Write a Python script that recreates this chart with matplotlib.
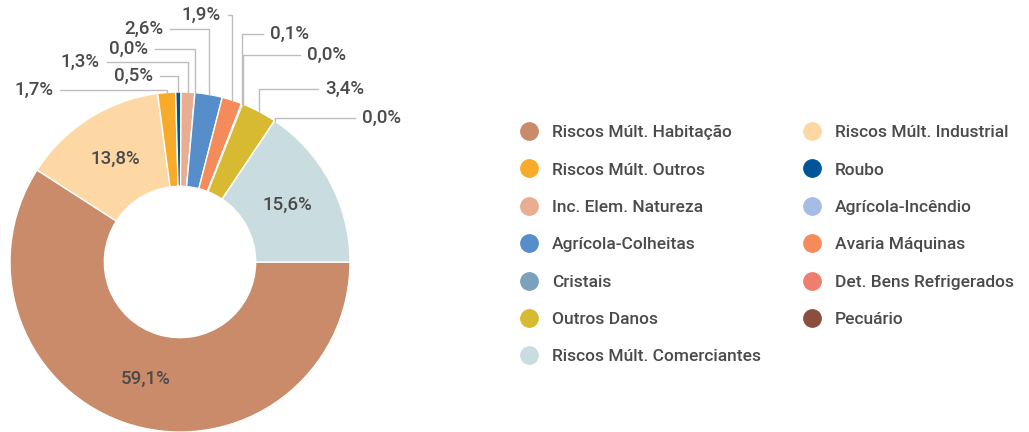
import numpy as np
import matplotlib
matplotlib.use("Agg")
import matplotlib.pyplot as plt
from matplotlib.lines import Line2D

# slice data, clockwise from 3 o'clock
categories = ["Riscos Múlt. Habitação", "Riscos Múlt. Industrial", "Riscos Múlt. Outros",
              "Roubo", "Inc. Elem. Natureza", "Agrícola-Incêndio", "Agrícola-Colheitas",
              "Avaria Máquinas", "Cristais", "Det. Bens Refrigerados", "Outros Danos",
              "Pecuário", "Riscos Múlt. Comerciantes"]
shares = [59.1, 13.8, 1.7, 0.5, 1.3, 0.0, 2.6, 1.9, 0.1, 0.0, 3.4, 0.0, 15.6]
colors = ["#c98b69", "#fdd8a5", "#f8ab29", "#00559a", "#e9ad92", "#a5bde4", "#568dcb",
          "#f58a5b", "#7aa2bc", "#ee7e6e", "#d8ba32", "#8b4f3f", "#c9dde1"]

TXT = "#4a4a4a"
LINE = "#bdbdbd"
plt.rcParams["font.family"] = ["Roboto", "DejaVu Sans"]
plt.rcParams["font.weight"] = "medium"

W, H = 1029, 432
fig = plt.figure(figsize=(W / 100, H / 100), dpi=100)
ax = fig.add_axes([0, 0, 1, 1])

cx, cy, R = 180, H - 262, 170
wedges, _ = ax.pie(shares, colors=colors, startangle=0, counterclock=False,
                   center=(cx, cy), radius=R,
                   wedgeprops=dict(width=R * 0.555, edgecolor="white", linewidth=1))
ax.set_xlim(0, W)
ax.set_ylim(0, H)
ax.set_aspect("equal")
ax.axis("off")

def fmt(v):
    return f"{v:.1f}%".replace(".", ",")

# outside labels: (text y in px from top, text x, alignment)
outside = {2: (90, 53, "right"), 3: (76, 153, "right"), 4: (62, 100, "right"),
           5: (49, 148, "right"), 6: (29, 163, "right"), 7: (15, 221, "right"),
           8: (34, 270, "left"), 9: (55, 307, "left"), 10: (89, 325, "left"),
           11: (118, 362, "left")}

for i, w in enumerate(wedges):
    mid = np.deg2rad((w.theta1 + w.theta2) / 2)
    if i in outside:
        ty, tx, ha = outside[i]
        ty = H - ty
        ax_x = cx + R * np.cos(mid)
        ax_y = cy + R * np.sin(mid)
        end = tx + 7 if ha == "right" else tx - 7
        ax.plot([ax_x, ax_x, end], [ax_y, ty, ty], color=LINE, lw=1)
        ax.text(tx, ty, fmt(shares[i]), ha=ha, va="center", fontsize=13.5, color=TXT)
    else:
        r = R * 0.715
        ax.text(cx + r * np.cos(mid), cy + r * np.sin(mid), fmt(shares[i]),
                ha="center", va="center", fontsize=13.5, color=TXT)

# legend, row-major in 2 columns
handles = [Line2D([], [], marker="o", ls="", markersize=12.5, color=c) for c in colors]
order = list(range(0, 13, 2)) + list(range(1, 13, 2))
fig.legend([handles[k] for k in order], [categories[k] for k in order],
           ncol=2, loc="upper left", bbox_to_anchor=(520 / W, 1 - 125 / H),
           frameon=False, fontsize=12.5, handlelength=1.0, handletextpad=0.83,
           labelspacing=1.28, columnspacing=2.45, borderpad=0, borderaxespad=0,
           labelcolor=TXT)

fig.savefig("out.png", dpi=100)
